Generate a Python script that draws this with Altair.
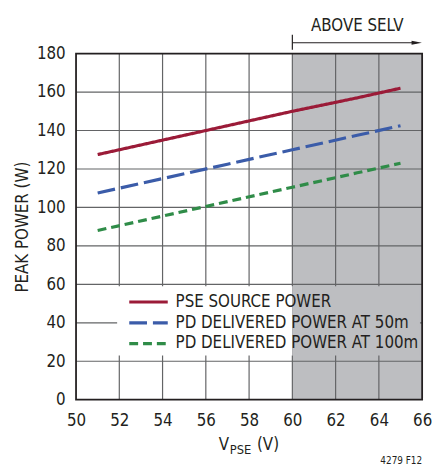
import altair as alt
import pandas as pd

# ---------------- data ----------------
x_ticks = [50, 52, 54, 56, 58, 60, 62, 64, 66]
y_ticks = [0, 20, 40, 60, 80, 100, 120, 140, 160, 180]
voltage = [51, 54, 57, 60, 63, 65]
pse_power = [127.5, 135, 142.5, 150, 157, 162]
pd50_power = [107.5, 115, 122.5, 130, 137.5, 142.5]
pd100_power = [88, 95.5, 103, 110.5, 118, 123]
series_names = ["PSE SOURCE POWER", "PD DELIVERED POWER AT 50m", "PD DELIVERED POWER AT 100m"]
selv_start = 60
selv_label = "ABOVE SELV"
fig_label = "4279 F12"

# ---------------- styles ----------------
series_colors = ["#9b1b38", "#3b5ca9", "#2f8c48"]
series_dashes = [[1, 0], [18, 6], [9, 5]]
FONT = "Liberation Sans Narrow, DejaVu Sans Condensed, sans-serif"
TXT = "#231f20"
GRID = "#636466"
SHADE = "#bdbec1"
W, H = 351, 351
FS = 17

x_min, x_max = x_ticks[0], x_ticks[-1]
y_min, y_max = y_ticks[0], y_ticks[-1]

xs = alt.Scale(domain=[x_min, x_max], nice=False, zero=False)
ys = alt.Scale(domain=[y_min, y_max], nice=False, zero=False)

X_AXIS = alt.Axis(
    values=x_ticks, grid=False, ticks=False, tickSize=0, domain=False,
    labelFont=FONT, labelFontSize=FS, labelColor=TXT, labelPadding=13,
    labelOverlap=False, labelFlush=False, title=None, format="d")
Y_AXIS = alt.Axis(
    values=y_ticks, grid=False, ticks=False, tickSize=0, domain=False,
    labelFont=FONT, labelFontSize=FS, labelColor=TXT, labelPadding=11,
    labelOverlap=False, labelFlush=False,
    title="PEAK POWER (W)", titleFont=FONT, titleFontSize=FS, titleFontWeight="normal",
    titleColor=TXT, titleX=-54, titleY=H / 2, titleAngle=270, titleAlign="center",
    titleBaseline="middle", format="d")


def X(field):
    return alt.X(field, type="quantitative", scale=xs, axis=X_AXIS)


def Y(field):
    return alt.Y(field, type="quantitative", scale=ys, axis=Y_AXIS)


lines_df = pd.DataFrame({
    "voltage": voltage * 3,
    "power": pse_power + pd50_power + pd100_power,
    "series": [series_names[0]] * len(voltage) + [series_names[1]] * len(voltage) + [series_names[2]] * len(voltage),
})

color_scale = alt.Scale(domain=series_names, range=series_colors)
dash_scale = alt.Scale(domain=series_names, range=series_dashes)

# shaded region
shade_df = pd.DataFrame({"x": [selv_start], "x2": [x_max], "y": [y_min], "y2": [y_max]})
shade = alt.Chart(shade_df).mark_rect(color=SHADE).encode(
    x=X("x"), x2="x2:Q", y=Y("y"), y2="y2:Q")

# grid lines
vgrid_df = pd.DataFrame({"x": x_ticks[1:-1], "y": y_min, "y2": y_max})
vgrid = alt.Chart(vgrid_df).mark_rule(color=GRID, strokeWidth=1.2).encode(
    x=X("x"), y=Y("y"), y2="y2:Q")
hgrid_df = pd.DataFrame({"y": y_ticks[1:-1], "x": x_min, "x2": x_max})
hgrid = alt.Chart(hgrid_df).mark_rule(color=GRID, strokeWidth=1.2).encode(
    y=Y("y"), x=X("x"), x2="x2:Q")

# legend box (covers grid lines)
LB_X0, LB_X1, LB_Y0, LB_Y1 = 51.9, 65.9, 23, 59
lbw_df = pd.DataFrame({"x": [LB_X0], "x2": [selv_start], "y": [LB_Y0], "y2": [LB_Y1]})
lbg_df = pd.DataFrame({"x": [selv_start], "x2": [LB_X1], "y": [LB_Y0], "y2": [LB_Y1]})
lbox_w = alt.Chart(lbw_df).mark_rect(color="#ffffff").encode(
    x=X("x"), x2="x2:Q", y=Y("y"), y2="y2:Q")
lbox_g = alt.Chart(lbg_df).mark_rect(color=SHADE).encode(
    x=X("x"), x2="x2:Q", y=Y("y"), y2="y2:Q")

# border
border_df = pd.DataFrame({"x": [x_min], "x2": [x_max], "y": [y_min], "y2": [y_max]})
border = alt.Chart(border_df).mark_rect(fill=None, filled=False, stroke=TXT, strokeWidth=1.8).encode(
    x=X("x"), x2="x2:Q", y=Y("y"), y2="y2:Q")

# data lines
lines = alt.Chart(lines_df).mark_line(strokeWidth=3.2).encode(
    x=X("voltage"), y=Y("power"),
    color=alt.Color("series:N", scale=color_scale, legend=None),
    strokeDash=alt.StrokeDash("series:N", scale=dash_scale, legend=None),
    detail="series:N")

# custom legend
LEG_SX0, LEG_SX1, LEG_TX = 52.46, 54.24, 54.6
LEG_ROWS = [50.8, 40.0, 29.2]
leg_df = pd.DataFrame({"series": series_names, "y": LEG_ROWS,
                       "x": LEG_SX0, "x2": LEG_SX1, "tx": LEG_TX})
leg_sym = alt.Chart(leg_df).mark_rule(strokeWidth=3.2).encode(
    x=X("x"), x2="x2:Q", y=Y("y"),
    color=alt.Color("series:N", scale=color_scale, legend=None),
    strokeDash=alt.StrokeDash("series:N", scale=dash_scale, legend=None))
leg_txt = alt.Chart(leg_df).mark_text(align="left", baseline="middle", font=FONT,
                                      fontSize=FS, color=TXT).encode(
    x=X("tx"), y=Y("y"), text="series:N")

# SELV annotation
ann_df = pd.DataFrame({"x": [selv_start], "x2": [x_max - 0.25], "tx": [(selv_start + x_max) / 2], "label": [selv_label]})
ann_tick = alt.Chart(ann_df).mark_rule(color=TXT, strokeWidth=1.2).encode(
    x=X("x"), y=alt.value(-19), y2=alt.value(-4))
ann_line = alt.Chart(ann_df).mark_rule(color=TXT, strokeWidth=1.2).encode(
    x=X("x"), x2="x2:Q", y=alt.value(-11))
ann_head = alt.Chart(ann_df).mark_point(shape="M-1,-0.38L1,0L-1,0.38Z", filled=True, size=110,
                                        color=TXT, opacity=1).encode(
    x=X("x2"), y=alt.value(-11))
ann_text = alt.Chart(ann_df).mark_text(font=FONT, fontSize=FS, color=TXT, baseline="middle").encode(
    x=X("tx"), y=alt.value(-28), text="label:N")

# x axis title with subscript
t_df = pd.DataFrame({"a": ["V"], "b": ["PSE"], "c": ["(V)"], "d": [fig_label]})
xt1 = alt.Chart(t_df).mark_text(font=FONT, fontSize=FS, color=TXT, align="left", baseline="alphabetic").encode(
    x=alt.value(144.7), y=alt.value(402), text="a:N")
xt2 = alt.Chart(t_df).mark_text(font=FONT, fontSize=13, color=TXT, align="left", baseline="alphabetic").encode(
    x=alt.value(156), y=alt.value(406), text="b:N")
xt3 = alt.Chart(t_df).mark_text(font=FONT, fontSize=FS, color=TXT, align="left", baseline="alphabetic").encode(
    x=alt.value(183.5), y=alt.value(402), text="c:N")
fig = alt.Chart(t_df).mark_text(font=FONT, fontSize=10, color=TXT, align="right", baseline="alphabetic").encode(
    x=alt.value(351), y=alt.value(416), text="d:N")

chart = alt.layer(
    shade, vgrid, hgrid, lbox_w, lbox_g, border, lines, leg_sym, leg_txt,
    ann_tick, ann_line, ann_head, ann_text, xt1, xt2, xt3, fig
).properties(
    width=W, height=H,
    autosize=alt.AutoSizeParams(type="none"),
    padding={"left": 69, "top": 43, "right": 10, "bottom": 66},
    background="white",
).configure_view(stroke=None)

chart.save("out.html", embed_options={"renderer": "svg", "actions": False})
